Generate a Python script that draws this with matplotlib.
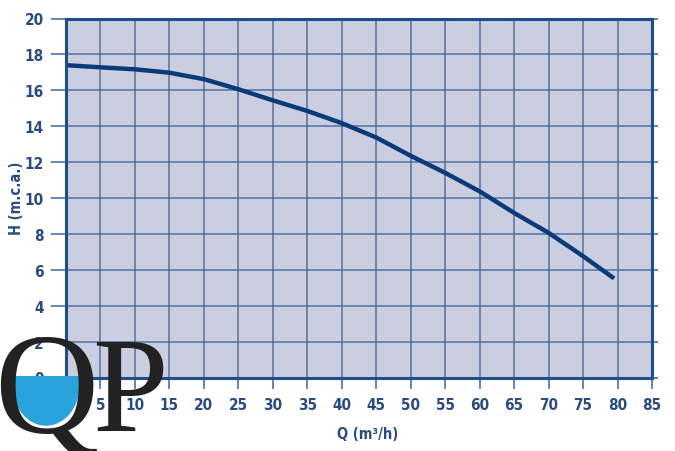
import numpy as np
import matplotlib
matplotlib.use('Agg')
import matplotlib.pyplot as plt
from matplotlib import font_manager
from matplotlib.patches import Ellipse, Rectangle

# Pump curve
caudal = [0, 5, 10, 15, 20, 25, 30, 35, 40, 45, 50, 55, 60, 65, 70, 75, 79.5]
altura = [17.4, 17.28, 17.17, 16.98, 16.62, 16.06, 15.44, 14.85, 14.17, 13.37,
          12.35, 11.4, 10.37, 9.17, 8.06, 6.76, 5.52]
x_ticks = list(range(0, 90, 5))
y_ticks = list(range(0, 22, 2))

bg = '#cbcde0'
grid_col = '#3d6399'
spine_col = '#1f4e8c'
line_col = '#0b3a78'
text_col = '#2b4b80'

fp = font_manager.FontProperties(family='DejaVu Sans', stretch='condensed', weight='bold')

fig = plt.figure(figsize=(6.75, 4.52), dpi=100)
ax = fig.add_axes([66 / 675, 1 - 378.5 / 452, 586 / 675, 359 / 452])
ax.set_facecolor(bg)
ax.set_xlim(0, 85)
ax.set_ylim(0, 20)
ax.set_xticks(x_ticks)
ax.set_yticks(y_ticks)
ax.set_xticklabels(['' if v == 0 else str(v) for v in x_ticks])
ax.grid(True, color=grid_col, linewidth=1.1, alpha=0.85)
ax.set_axisbelow(True)

ax.plot(caudal, altura, color=line_col, linewidth=3.2, solid_capstyle='butt')

for s in ax.spines.values():
    s.set_color(spine_col)
    s.set_linewidth(2.2)

ax.tick_params(axis='x', direction='out', length=8, width=1.1, color=grid_col,
               pad=6, labelcolor=text_col)
ax.tick_params(axis='y', direction='out', length=11, width=1.1, color=grid_col,
               pad=5, labelcolor=text_col, right=True)
for t in ax.yaxis.get_major_ticks():
    t.tick2line.set_markersize(4)
for lab in ax.get_xticklabels() + ax.get_yticklabels():
    lab.set_fontproperties(fp)
    lab.set_fontsize(11)

ax.set_xlabel('Q (m³/h)', color=text_col, fontproperties=fp, va='center')
ax.set_ylabel('H (m.c.a.)', color=text_col, fontproperties=fp, va='center')
ax.xaxis.label.set_fontsize(10.5)
ax.yaxis.label.set_fontsize(10.5)
ax.xaxis.set_label_coords((368 - 66) / 586, (378.5 - 435) / 359)
ax.yaxis.set_label_coords((17 - 66) / 586, (378.5 - 198) / 359)

# QP logo overlay
ov = fig.add_axes([0, 0, 1, 1])
ov.set_xlim(0, 675)
ov.set_ylim(452, 0)
ov.axis('off')
ov.patch.set_alpha(0)
water = Ellipse((46, 386), 66, 80, color='#2aa3dc', zorder=1)
ov.add_patch(water)
clip = Rectangle((0, 377), 200, 80, transform=ov.transData)
water.set_clip_path(clip)
ov.text(-6, 433, 'Q', fontsize=104, family='Liberation Serif', color='#222222',
        va='baseline', ha='left', zorder=2)
ov.text(92, 431, 'P', fontsize=98, family='Liberation Serif', color='#222222',
        va='baseline', ha='left', zorder=2)

fig.savefig('out.png', dpi=100)
